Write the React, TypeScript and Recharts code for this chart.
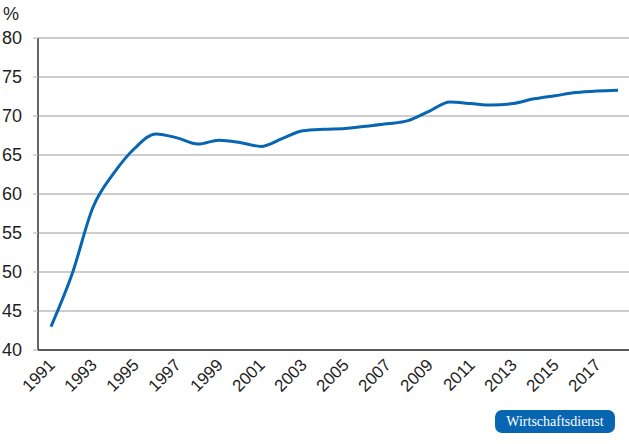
import React from "react";
import {
  LineChart,
  Line,
  XAxis,
  YAxis,
  CartesianGrid,
} from "recharts";

// employment rate, %, 1991-2018
const years = [
  1991, 1992, 1993, 1994, 1995, 1996, 1997, 1998, 1999, 2000, 2001, 2002, 2003, 2004,
  2005, 2006, 2007, 2008, 2009, 2010, 2011, 2012, 2013, 2014, 2015, 2016, 2017, 2018,
];
const rates = [
  43.0, 49.7, 58.3, 62.7, 65.9, 67.7, 67.2, 66.4, 66.9, 66.6, 66.1, 67.1, 68.1, 68.3,
  68.4, 68.7, 69.0, 69.4, 70.6, 71.8, 71.6, 71.4, 71.6, 72.2, 72.6, 73.0, 73.2, 73.3,
];
const yTicks = [40, 45, 50, 55, 60, 65, 70, 75, 80];
const xTicks = [1991, 1993, 1995, 1997, 1999, 2001, 2003, 2005, 2007, 2009, 2011, 2013, 2015, 2017];

const data = years.map((year, i) => ({ year, rate: rates[i] }));

const FONT = "'Liberation Sans', Arial, sans-serif";
const TEXT = "#1e1e1e";
const BLUE = "#0765b2";

function YearTick({ x, y, payload }: any) {
  const ax = x + 5;
  const ay = y + 16;
  return (
    <text
      x={ax}
      y={ay}
      transform={`rotate(-45 ${ax} ${ay})`}
      textAnchor="end"
      fontSize={17}
      fontFamily={FONT}
      fill={TEXT}
    >
      {payload.value}
    </text>
  );
}

export default function App() {
  return (
    <div style={{ position: "absolute", left: 0, top: 0, width: 629, height: 444, background: "#fff" }}>
      <LineChart
        width={629}
        height={444}
        data={data}
        margin={{ top: 38, right: 0, bottom: 0, left: 0 }}
      >
        <CartesianGrid horizontal vertical={false} stroke="#bdbdbd" strokeWidth={1.3} />
        <XAxis
          dataKey="year"
          type="number"
          domain={[1991, 2018]}
          ticks={xTicks}
          interval={0}
          padding={{ left: 13, right: 11 }}
          height={94}
          tickSize={0}
          tickMargin={0}
          tickLine={false}
          axisLine={{ stroke: "#333", strokeWidth: 1.5 }}
          tick={<YearTick />}
        />
        <YAxis
          type="number"
          domain={[40, 80]}
          ticks={yTicks}
          interval={0}
          width={38}
          tickSize={5}
          tickMargin={11}
          tickLine={{ stroke: "#bdbdbd", strokeWidth: 1.3 }}
          axisLine={{ stroke: "#333", strokeWidth: 1.5 }}
          tick={{ fontSize: 18, fontFamily: FONT, fill: TEXT, dy: 0 }}
        />
        <Line
          type="monotone"
          dataKey="rate"
          stroke={BLUE}
          strokeWidth={3}
          dot={false}
          isAnimationActive={false}
        />
      </LineChart>
      <div
        style={{
          position: "absolute",
          left: 3,
          top: 4,
          fontFamily: FONT,
          fontSize: 18,
          color: TEXT,
          lineHeight: "20px",
        }}
      >
        %
      </div>
      <div
        style={{
          position: "absolute",
          left: 495,
          top: 410,
          width: 120,
          height: 23,
          borderRadius: 7,
          background: BLUE,
          color: "#fff",
          fontFamily: "'Liberation Serif', 'Times New Roman', serif",
          fontSize: 14,
          lineHeight: "23px",
          textAlign: "center",
        }}
      >
        Wirtschaftsdienst
      </div>
    </div>
  );
}
